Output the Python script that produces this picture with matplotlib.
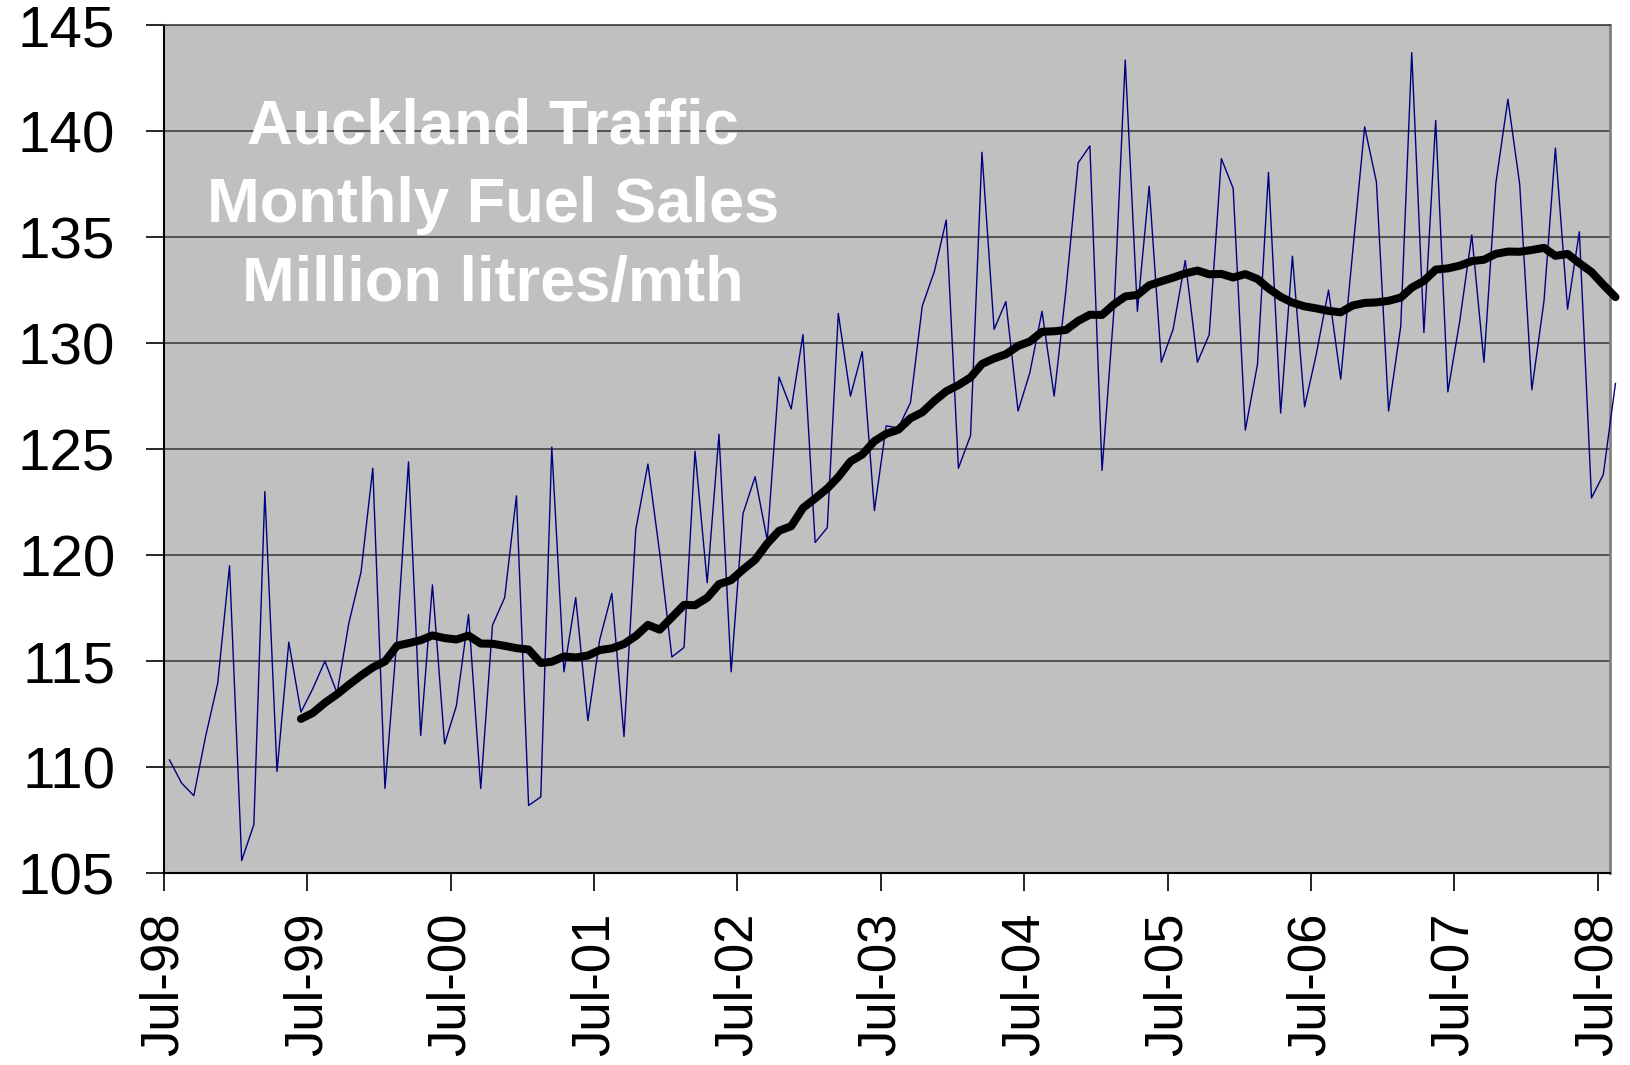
import matplotlib
matplotlib.use('Agg')
import matplotlib.pyplot as plt
import pandas as pd

# monthly fuel sales, million litres, Jul-98 .. Aug-08
fuel_sales = [
    110.35, 109.25, 108.66, 111.45, 113.97, 119.5, 105.6, 107.3, 123.0, 109.8, 115.9, 112.6,
    113.7, 115.0, 113.5, 116.8, 119.2, 124.1, 109.0, 116.2, 124.4, 111.5, 118.6, 111.1,
    112.9, 117.2, 109.0, 116.7, 118.0, 122.8, 108.2, 108.6, 125.1, 114.5, 118.0, 112.2,
    116.0, 118.2, 111.45, 121.2, 124.3, 120.1, 115.2, 115.65, 124.9, 118.7, 125.7, 114.5,
    121.95, 123.7, 120.7, 128.4, 126.9, 130.4, 120.6, 121.3, 131.4, 127.5, 129.6, 122.1,
    126.1, 126.0, 127.2, 131.75, 133.4, 135.8, 124.1, 125.65, 139.0, 130.65, 131.96, 126.8,
    128.6, 131.5, 127.5, 132.5, 138.5, 139.3, 124.0, 131.75, 143.35, 131.5, 137.4, 129.1,
    130.65, 133.9, 129.1, 130.4, 138.7, 137.3, 125.9, 129.0, 138.05, 126.7, 134.1, 127.0,
    129.5, 132.5, 128.3, 134.2, 140.2, 137.6, 126.8, 130.8, 143.7, 130.5, 140.5, 127.7,
    131.0, 135.1, 129.1, 137.5, 141.5, 137.5, 127.8, 132.0, 139.2, 131.6, 135.25, 122.7,
    123.8, 128.1,
]
ma_window = 12  # 12 month moving average (black line)

title_lines = ['Auckland Traffic', 'Monthly Fuel Sales', 'Million litres/mth']
y_ticks = [105, 110, 115, 120, 125, 130, 135, 140, 145]
tick_years = list(range(1998, 2009))

months = pd.date_range('1998-07-01', periods=len(fuel_sales), freq='MS') + pd.Timedelta(days=14)
sales = pd.Series(fuel_sales, index=months)
moving_avg = sales.rolling(ma_window).mean()

plt.rcParams['font.family'] = ['Liberation Sans', 'DejaVu Sans']

fig = plt.figure(figsize=(16.3, 10.65), dpi=100)
ax = fig.add_axes([0.1006, 0.18, 0.8871, 0.7965])
ax.set_facecolor('#c0c0c0')

ax.plot(sales.index, sales.values, color='#000080', lw=1.0, clip_on=False, zorder=3)
ax.plot(moving_avg.index, moving_avg.values, color='black', lw=5.8,
        solid_capstyle='round', solid_joinstyle='round', clip_on=False, zorder=4)

### axes
ax.set_ylim(105, 145)
ax.set_yticks(y_ticks)
ax.set_xlim(pd.Timestamp('1998-07-01'), pd.Timestamp('2008-08-01'))
ax.set_xticks([pd.Timestamp(f'{y}-07-01') for y in tick_years])
ax.set_xticklabels([f'Jul-{y % 100:02d}' for y in tick_years], rotation=90)

ax.yaxis.grid(True, color='#404040', lw=1.2)
ax.set_axisbelow(True)

ax.tick_params(axis='both', direction='out', length=13, width=1.2, colors='black')
ax.tick_params(axis='y', pad=22, labelsize=42)
ax.tick_params(axis='x', pad=15, labelsize=38)

ax.spines['left'].set_color('black')
ax.spines['left'].set_linewidth(1.5)
ax.spines['bottom'].set_color('black')
ax.spines['bottom'].set_linewidth(1.5)
ax.spines['top'].set_color('#404040')
ax.spines['top'].set_linewidth(1.2)
ax.spines['right'].set_color('#808080')
ax.spines['right'].set_linewidth(2)

### title inside the plot
ax.text(0.2275, 0.787, '\n'.join(title_lines), transform=ax.transAxes,
        ha='center', va='center', color='white', fontsize=45.5,
        fontweight='bold', linespacing=1.43, zorder=5)

fig.savefig('out.png', dpi=100)
